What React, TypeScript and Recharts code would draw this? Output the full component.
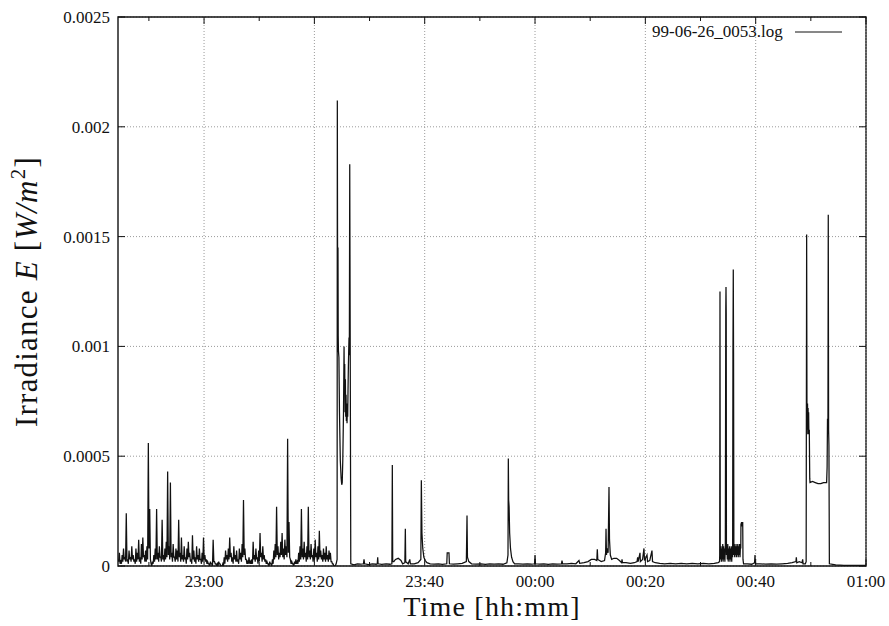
import React from "react";
import {
  LineChart,
  Line,
  XAxis,
  YAxis,
  CartesianGrid,
  ReferenceLine,
  ReferenceArea,
  Legend,
} from "recharts";

// ---- data (irradiance values in units of 1e-5 W/m^2, time in minutes relative to 00:00) ----
const SERIES_NAME = "99-06-26_0053.log";

// noisy part 22:44.4 .. 23:23.7: upper samples every 0.25 min, lower samples in between
const noisyStart = -75.6;
const noisyStep = 0.25;
const noisyHigh = [
  3, 6, 2, 5, 8, 4, 24, 3, 7, 4, 9, 5, 3, 8, 6, 12, 4, 10, 13, 5, 7, 9,
  56, 26, 1, 2, 5, 8, 26, 6, 9, 4, 21, 5, 8, 11, 43, 9, 38, 6, 10, 4, 8, 7,
  21, 6, 13, 5, 9, 4, 8, 11, 6, 3, 14, 7, 4, 9, 5, 8, 3, 6, 13, 5, 3, 2, 1,
  2, 1, 12, 2, 1, 1, 2, 1, 0, 1, 4, 7, 5, 8, 13, 6, 4, 9, 5, 7, 3, 8, 6, 10,
  30, 8, 3, 2, 4, 2, 3, 11, 5, 8, 4, 7, 15, 6, 9, 5, 3, 2, 1, 2, 1, 3, 7, 10,
  27, 9, 6, 11, 15, 8, 12, 9, 58, 20, 3, 2, 1, 2, 3, 2, 6, 9, 26, 8, 11, 6, 9,
  27, 7, 10, 5, 8, 12, 6, 9, 16, 7, 5, 8, 6, 9, 5, 7, 6, 2, 1, 0,
];
const noisyLow = [
  2, 1, 1, 2, 3, 2, 2, 1, 3, 2, 3, 2, 1, 2, 3, 2, 1, 3, 4, 2, 2, 3,
  8, 3, 0, 1, 2, 3, 3, 2, 4, 2, 3, 2, 3, 4,
  5, 3, 4, 2, 4, 2, 3, 2, 4, 2, 3,
  2, 3, 1, 3, 4, 2, 1, 3, 2, 1, 3, 2, 3, 1, 2, 3, 2, 1,
  1, 0, 1, 0, 2, 1, 0, 0, 1, 0, 0, 0,
  1, 3, 2, 3, 4, 2, 1, 3, 2, 2, 1, 3, 2, 4,
  5, 3, 1, 1, 1, 1, 1,
  3, 2, 3, 1, 2, 4, 2, 3, 2, 1,
  1, 0, 1, 0, 1,
  3, 4, 5, 3, 4, 5, 4, 3, 5, 4, 6, 4,
  1, 1, 0, 1, 1, 1,
  2, 3, 4, 3, 4, 2, 3, 4, 3, 4, 2, 3, 4, 2, 3, 4, 3, 2, 3, 2, 3, 2, 3, 2,
  1, 0, 0,
];

// burst around 23:24 .. 23:27
const burstPoints: [number, number][] = [
  [-36.05, 1], [-35.88, 3], [-35.84, 212], [-35.8, 148], [-35.76, 120],
  [-35.72, 145], [-35.68, 105], [-35.64, 98], [-35.55, 95], [-35.45, 70],
  [-35.3, 48], [-35.15, 40], [-35.04, 37], [-34.95, 38], [-34.85, 48],
  [-34.72, 70], [-34.62, 100], [-34.56, 80], [-34.5, 92], [-34.44, 70],
  [-34.38, 85], [-34.32, 68], [-34.26, 78], [-34.2, 66], [-34.14, 74],
  [-34.08, 65], [-34.02, 72], [-33.96, 68], [-33.9, 80], [-33.84, 90],
  [-33.78, 98], [-33.72, 104], [-33.66, 96], [-33.59, 183], [-33.4, 1],
];

// quiet part 23:27 .. 01:00
const quietPoints: [number, number][] = [
  [-32.8, 0.5], [-32.2, 1], [-31.6, 0.8], [-31.1, 1], [-31.0, 3], [-30.9, 1],
  [-30.2, 0.6], [-29.5, 1], [-28.8, 0.8], [-28.6, 1], [-28.52, 4], [-28.45, 1],
  [-27.8, 0.7], [-27.0, 1], [-26.3, 0.8], [-25.95, 1], [-25.87, 46], [-25.8, 2],
  [-25.6, 2], [-25.3, 3], [-24.8, 3.5], [-24.3, 2.5], [-24.0, 1], [-23.6, 1.5],
  [-23.51, 17], [-23.44, 2], [-23.0, 1], [-22.7, 3], [-22.6, 1], [-21.9, 1],
  [-21.2, 1.5], [-20.7, 3], [-20.61, 39], [-20.5, 15], [-20.35, 8], [-20.15, 4],
  [-19.9, 2.5], [-19.6, 1.5], [-19.0, 1], [-18.3, 0.8], [-17.5, 1], [-16.8, 0.7],
  [-16.0, 1], [-15.92, 6], [-15.6, 6], [-15.52, 1], [-14.8, 0.8], [-14.0, 1],
  [-13.2, 1.2], [-12.45, 2], [-12.33, 23], [-12.25, 4], [-12.0, 2], [-11.5, 1],
  [-10.7, 0.8], [-9.8, 1], [-9.0, 0.7], [-8.2, 1], [-7.4, 0.8], [-6.6, 1],
  [-5.8, 0.8], [-5.1, 1.5], [-4.9, 5], [-4.84, 49], [-4.78, 30], [-4.7, 27],
  [-4.6, 15], [-4.45, 8], [-4.25, 4], [-4.0, 2], [-3.7, 1], [-3.0, 1],
  [-2.2, 0.8], [-1.4, 1], [-0.6, 0.8], [-0.08, 1], [0.0, 5], [0.08, 1],
  [0.8, 0.8], [1.6, 1], [2.4, 0.7], [3.2, 1], [4.0, 0.8], [4.8, 1], [4.89, 2.5],
  [5.0, 1], [5.8, 1], [6.6, 1.2], [7.4, 1], [7.97, 2.5], [8.1, 1.2], [8.9, 1.5],
  [9.6, 2], [10.2, 3], [10.8, 3], [11.2, 2.5], [11.29, 7.6], [11.38, 3],
  [12.0, 2], [12.6, 2.5], [12.8, 6], [12.87, 17], [12.95, 5], [13.1, 8],
  [13.25, 6], [13.41, 36], [13.5, 12], [13.65, 5], [13.9, 3], [14.3, 3.5],
  [14.8, 3.5], [15.3, 2.5], [15.7, 1.5], [15.77, 3], [15.85, 1.5], [16.5, 1.5],
  [17.3, 1.2], [18.0, 1.5], [18.5, 2], [18.6, 4], [18.7, 2], [19.03, 6],
  [19.1, 2], [19.5, 3], [19.75, 8], [19.85, 2.5], [20.3, 5], [20.4, 2],
  [20.8, 2.5], [21.2, 7], [21.3, 2], [21.8, 1.5], [22.6, 1.2], [23.5, 1],
  [24.5, 1.2], [25.5, 1], [26.5, 1.2], [27.5, 1], [28.5, 1.2], [29.5, 1],
  [30.5, 1.2], [31.5, 1], [32.5, 1.2], [33.2, 1.5], [33.45, 2],
  [33.48, 5], [33.53, 125], [33.58, 8], [33.65, 3], [33.72, 9], [33.8, 2],
  [33.88, 8], [33.95, 3], [34.03, 10], [34.1, 2], [34.18, 9], [34.26, 3],
  [34.34, 8], [34.42, 2], [34.5, 9], [34.58, 117], [34.62, 127], [34.66, 115],
  [34.7, 5], [34.78, 9], [34.86, 3], [34.94, 10], [35.02, 2], [35.1, 8],
  [35.18, 3], [35.26, 9], [35.34, 2], [35.42, 8], [35.5, 3], [35.58, 9],
  [35.66, 2], [35.74, 8], [35.82, 4], [35.88, 97], [35.94, 135], [35.99, 97],
  [36.05, 5], [36.12, 10], [36.2, 4], [36.28, 9], [36.36, 5], [36.44, 10],
  [36.52, 4], [36.6, 9], [36.68, 5], [36.76, 10], [36.84, 4], [36.92, 9],
  [37.0, 5], [37.08, 10], [37.16, 4], [37.24, 9], [37.3, 8], [37.33, 19],
  [37.45, 20], [37.55, 18], [37.65, 20], [37.7, 3], [37.8, 1],
  [38.5, 1], [39.3, 0.8], [39.8, 1.5], [39.88, 5], [39.95, 1], [40.8, 1],
  [41.8, 0.8], [42.8, 1], [43.8, 0.8], [44.8, 1], [45.8, 1.2], [46.6, 1.5],
  [47.3, 2], [47.37, 4], [47.45, 1.5], [47.9, 2], [48.4, 1.5], [48.52, 3],
  [48.6, 1], [49.0, 1], [49.15, 2], [49.24, 151], [49.3, 72], [49.35, 62],
  [49.4, 74], [49.45, 60], [49.5, 72], [49.55, 61], [49.6, 70], [49.65, 60],
  [49.72, 62], [49.8, 40], [49.85, 38], [50.3, 38.5], [50.8, 38], [51.3, 37.5],
  [51.8, 37.5], [52.3, 38], [52.86, 38], [52.95, 45], [53.02, 67], [53.06, 60],
  [53.1, 66], [53.16, 160], [53.22, 62], [53.28, 55], [53.36, 1], [54.5, 0.5],
  [56, 0.3], [58, 0.3], [60, 0.3],
];

// axes
const xDomain: [number, number] = [-75.6, 60];
const xTicks = [-70, -60, -50, -40, -30, -20, -10, 0, 10, 20, 30, 40, 50, 60];
const xMajorTicks = [-60, -40, -20, 0, 20, 40, 60];
const xMajorLabels = ["23:00", "23:20", "23:40", "00:00", "00:20", "00:40", "01:00"];
const yTicks = [0, 0.0005, 0.001, 0.0015, 0.002, 0.0025];
const yTickLabels = ["0", "0.0005", "0.001", "0.0015", "0.002", "0.0025"];

const UNIT = 1e-5;
const noisyRows: { t: number; E: number }[] = [];
noisyHigh.forEach((v, i) => {
  noisyRows.push({ t: noisyStart + i * noisyStep, E: v * UNIT });
  noisyRows.push({ t: noisyStart + (i + 0.5) * noisyStep, E: noisyLow[i] * UNIT });
});
const data = [
  ...noisyRows,
  ...burstPoints.map(([t, v]) => ({ t, E: v * UNIT })),
  ...quietPoints.map(([t, v]) => ({ t, E: v * UNIT })),
];

// ---- layout ----
const W = 889;
const H = 626;
const PLOT_LEFT = 118;
const PLOT_RIGHT = 866;
const PLOT_TOP = 17;
const PLOT_BOTTOM = 566;
const FONT = "'Liberation Serif', 'Times New Roman', serif";
const INK = "#111";

const XTick = (props: any) => {
  const { x, y, payload } = props;
  const idx = xMajorTicks.indexOf(payload.value);
  const major = idx >= 0;
  const len = major ? 7 : 4;
  return (
    <g>
      <line x1={x} x2={x} y1={y} y2={y - len} stroke={INK} strokeWidth={1} />
      <line x1={x} x2={x} y1={PLOT_TOP} y2={PLOT_TOP + len} stroke={INK} strokeWidth={1} />
      {major && (
        <text x={x} y={y + 21} textAnchor="middle" fontFamily={FONT} fontSize={17} fill={INK}>
          {xMajorLabels[idx]}
        </text>
      )}
    </g>
  );
};

const YTick = (props: any) => {
  const { x, y, payload } = props;
  const idx = yTicks.indexOf(payload.value);
  const axisX = x + 8;
  return (
    <g>
      <line x1={axisX} x2={axisX + 7} y1={y} y2={y} stroke={INK} strokeWidth={1} />
      <line x1={PLOT_RIGHT} x2={PLOT_RIGHT - 7} y1={y} y2={y} stroke={INK} strokeWidth={1} />
      <text x={x} y={y} dy="0.35em" textAnchor="end" fontFamily={FONT} fontSize={17} fill={INK}>
        {idx >= 0 ? yTickLabels[idx] : ""}
      </text>
    </g>
  );
};

const XLabel = () => (
  <text
    x={(PLOT_LEFT + PLOT_RIGHT) / 2}
    y={616}
    textAnchor="middle"
    fontFamily={FONT}
    fontSize={28}
    letterSpacing={1.2}
    fill={INK}
  >
    Time [hh:mm]
  </text>
);

const YLabel = () => (
  <text
    transform={`translate(37, ${(PLOT_TOP + PLOT_BOTTOM) / 2}) rotate(-90)`}
    textAnchor="middle"
    fontFamily={FONT}
    fontSize={31}
    letterSpacing={1.2}
    fill={INK}
  >
    {"Irradiance "}
    <tspan fontStyle="italic">E</tspan>
    {" ["}
    <tspan fontStyle="italic">W/m</tspan>
    <tspan dy={-12} fontSize={21}>2</tspan>
    <tspan dy={12}>]</tspan>
  </text>
);

const LegendContent = () => (
  <div
    style={{
      display: "flex",
      alignItems: "center",
      fontFamily: FONT,
      fontSize: 17,
      color: INK,
      whiteSpace: "nowrap",
    }}
  >
    <span>{SERIES_NAME}</span>
    <svg width={60} height={6} style={{ marginLeft: 12 }}>
      <line x1={0} x2={47} y1={3} y2={3} stroke={INK} strokeWidth={1} />
    </svg>
  </div>
);

export default function App() {
  return (
    <div style={{ width: W, height: H, background: "#fff" }}>
      <style>{"body{margin:0;overflow:hidden;background:#fff}"}</style>
      <LineChart
        width={W}
        height={H}
        data={data}
        margin={{ top: PLOT_TOP, right: W - PLOT_RIGHT, bottom: 0, left: 0 }}
      >
        <CartesianGrid
          vertical={false}
          stroke="#9a9a9a"
          strokeDasharray="1 2"
          strokeWidth={1}
        />
        {xMajorTicks.map((v) => (
          <ReferenceLine
            key={v}
            x={v}
            stroke="#9a9a9a"
            strokeDasharray="1 2"
            strokeWidth={1}
          />
        ))}
        <XAxis
          type="number"
          dataKey="t"
          domain={xDomain}
          allowDataOverflow
          ticks={xTicks}
          interval={0}
          tickSize={0}
          tickMargin={0}
          tick={<XTick />}
          axisLine={false}
          tickLine={false}
          height={H - PLOT_BOTTOM}
          label={<XLabel />}
        />
        <YAxis
          type="number"
          domain={[0, 0.0025]}
          allowDataOverflow
          ticks={yTicks}
          interval={0}
          tickSize={0}
          tickMargin={8}
          tick={<YTick />}
          axisLine={false}
          tickLine={false}
          width={PLOT_LEFT}
          label={<YLabel />}
        />
        <ReferenceArea
          x1={xDomain[0]}
          x2={xDomain[1]}
          y1={0}
          y2={0.0025}
          fill="none"
          fillOpacity={0}
          stroke={INK}
          strokeWidth={1.4}
        />
        <Line
          type="linear"
          dataKey="E"
          name={SERIES_NAME}
          stroke={INK}
          strokeWidth={1.25}
          dot={false}
          activeDot={false}
          isAnimationActive={false}
        />
        <Legend
          layout="horizontal"
          verticalAlign="middle"
          align="center"
          wrapperStyle={{ position: "absolute", top: 22, left: 652, width: 230, height: 20 }}
          content={<LegendContent />}
        />
      </LineChart>
    </div>
  );
}
